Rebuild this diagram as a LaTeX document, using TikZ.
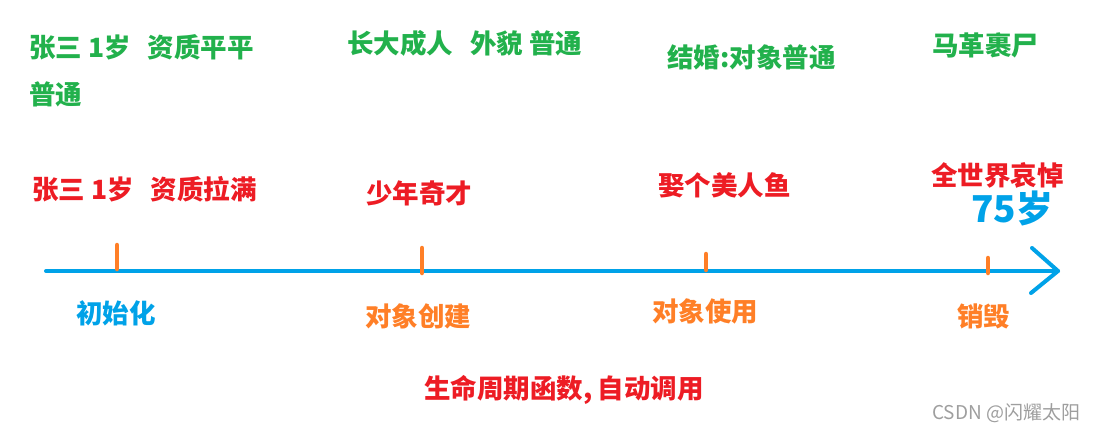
\documentclass[tikz,border=0pt]{standalone}
\usepackage{fontspec}
\newfontfamily\cjk{Noto Sans CJK SC}
\definecolor{pgreen}{HTML}{22B14C}
\definecolor{pred}{HTML}{ED1C24}
\definecolor{pblue}{HTML}{00A2E8}
\definecolor{porange}{HTML}{FF7F27}
\newcommand{\sgap}{\hspace{0.22em}}
\newcommand{\dgap}{\hspace{0.65em}}
\tikzset{
  lbl/.style={anchor=west, inner sep=0pt, font=\cjk\bfseries\fontsize{26.5}{32}\selectfont},
  gl/.style={lbl, text=pgreen},
  rl/.style={lbl, text=pred},
  bl/.style={lbl, text=pblue},
  ol/.style={lbl, text=porange},
  axisline/.style={pblue, line width=4pt, line cap=round},
  tickmark/.style={porange, line width=4.5pt, line cap=round},
}
\begin{document}
\begin{tikzpicture}[x=1pt,y=-1pt]
\useasboundingbox (0,0) rectangle (1099,432);
% top green
\node[gl] (g1) at (29,47) {张三\sgap 1岁\dgap 资质平平};
\node[gl] (g1b) at (29,94) {普通};
\node[gl] (g2) at (347,43) {长大成人\dgap 外貌\sgap 普通};
\node[gl] (g3) at (667,57) {结婚:对象普通};
\node[gl] (g4) at (932,45) {马革裹尸};
% red
\node[rl] (r1) at (32,189) {张三\sgap 1岁\dgap 资质拉满};
\node[rl] (r2) at (366,193) {少年奇才};
\node[rl] (r3) at (658,185) {娶个美人鱼};
\node[rl] (r4) at (931,175) {全世界哀悼};
\node[bl, font=\cjk\bfseries\fontsize{37}{44}\selectfont] (age) at (971,208) {75岁};
% axis
\coordinate (a0) at (46,271);
\coordinate (a1) at (1058,271);
\coordinate (h1) at (1032,248);
\coordinate (h2) at (1031,293);
\draw[axisline] (a0) -- (a1);
\draw[axisline, line join=round] (h1) -- (a1) -- (h2);
% ticks
\coordinate (t1a) at (117,245); \coordinate (t1b) at (117,269);
\coordinate (t2a) at (422,248); \coordinate (t2b) at (422,273);
\coordinate (t3a) at (706,254); \coordinate (t3b) at (706,270);
\coordinate (t4a) at (988,258); \coordinate (t4b) at (988,273);
\draw[tickmark] (t1a) -- (t1b);
\draw[tickmark] (t2a) -- (t2b);
\draw[tickmark] (t3a) -- (t3b);
\draw[tickmark] (t4a) -- (t4b);
% below
\node[bl] (b1) at (76,313) {初始化};
\node[ol] (b2) at (365,316) {对象创建};
\node[ol] (b3) at (652,311) {对象使用};
\node[ol] (b4) at (957,316) {销毁};
\node[rl] (fn) at (424,390) {生命周期函数,\hspace{0.2em}自动调用};
\node[anchor=west, inner sep=0pt, text=black!38, font=\cjk\fontsize{19}{23}\selectfont] (wm) at (932,413) {CSDN @闪耀太阳};
\end{tikzpicture}
\end{document}
